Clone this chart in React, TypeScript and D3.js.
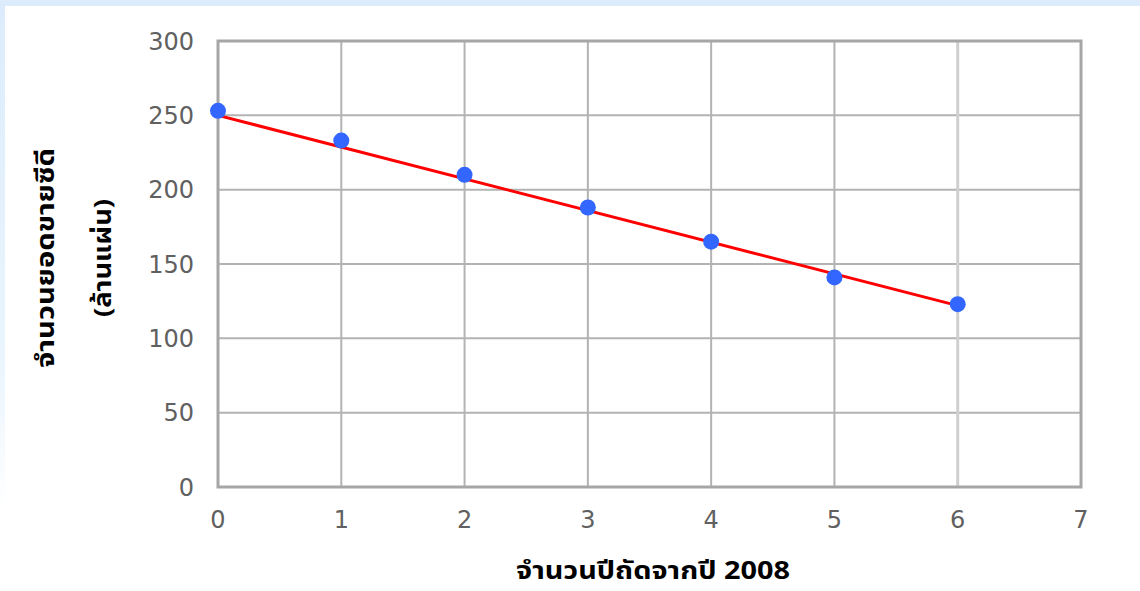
import React from "react";
import * as d3 from "d3";

const years = [0, 1, 2, 3, 4, 5, 6];
const sales = [253, 233, 210, 188, 165, 141, 123];
const trendX = [0, 6];
const trendY = [250, 122];
const xTicks = [0, 1, 2, 3, 4, 5, 6, 7];
const yTicks = [0, 50, 100, 150, 200, 250, 300];
const xTitle = "จำนวนปีถัดจากปี 2008";
const yTitleLines = ["จำนวนยอดขายซีดี", "(ล้านแผ่น)"];

const W = 1140;
const H = 591;
const plot = { left: 218, right: 1081, top: 41, bottom: 487 };

const thaiFont = "'Noto Sans Thai', 'Noto Sans', 'DejaVu Sans', sans-serif";
const tickFont = "'DejaVu Sans', sans-serif";

export default function App() {
  const x = d3.scaleLinear().domain([0, 7]).range([plot.left, plot.right]);
  const y = d3.scaleLinear().domain([0, 300]).range([plot.bottom, plot.top]);
  const trendLine = d3
    .line<number>()
    .x((_, i) => x(trendX[i]))
    .y((d) => y(d))(trendY) as string;

  const yTitleX = [54, 111];
  const yTitleLen = [220, 118];

  return (
    <svg
      width={W}
      height={H}
      style={{ position: "absolute", left: 0, top: 0, display: "block" }}
    >
      <defs>
        <linearGradient id="leftFade" x1="0" y1="0" x2="0" y2="1">
          <stop offset="0" stopColor="#dcecfc" />
          <stop offset="0.7" stopColor="#eaf5fd" />
          <stop offset="1" stopColor="#ffffff" />
        </linearGradient>
      </defs>
      <rect x={0} y={0} width={W} height={H} fill="#ffffff" />
      <rect x={0} y={0} width={W} height={6} fill="#dcecfc" />
      <rect x={0} y={6} width={5} height={505} fill="url(#leftFade)" />

      {/* grid */}
      {yTicks
        .filter((t) => t > 0 && t < 300)
        .map((t) => (
          <line
            key={"h" + t}
            x1={plot.left}
            x2={plot.right}
            y1={y(t)}
            y2={y(t)}
            stroke="#b3b3b3"
            strokeWidth={2}
          />
        ))}
      {xTicks
        .filter((t) => t > 0 && t < 7)
        .map((t) => (
          <line
            key={"v" + t}
            x1={x(t)}
            x2={x(t)}
            y1={plot.top}
            y2={plot.bottom}
            stroke={t === 6 ? "#cfcfcf" : "#b3b3b3"}
            strokeWidth={t === 6 ? 3 : 2}
          />
        ))}
      <rect
        x={plot.left}
        y={plot.top}
        width={plot.right - plot.left}
        height={plot.bottom - plot.top}
        fill="none"
        stroke="#a6a6a6"
        strokeWidth={3}
      />

      {/* tick labels */}
      {yTicks.map((t) => (
        <text
          key={"yl" + t}
          x={194}
          y={y(t)}
          dy="0.36em"
          textAnchor="end"
          fontFamily={tickFont}
          fontSize={24}
          fill="#606060"
        >
          {t}
        </text>
      ))}
      {xTicks.map((t) => (
        <text
          key={"xl" + t}
          x={x(t)}
          y={528}
          textAnchor="middle"
          fontFamily={tickFont}
          fontSize={24}
          fill="#606060"
        >
          {t}
        </text>
      ))}

      {/* trend line */}
      <path d={trendLine} fill="none" stroke="#ff0000" strokeWidth={3} />

      {/* points */}
      {years.map((yr, i) => (
        <circle key={"p" + yr} cx={x(yr)} cy={y(sales[i])} r={8} fill="#3366ff" />
      ))}

      {/* titles */}
      <text
        x={653}
        y={579}
        textAnchor="middle"
        fontFamily={thaiFont}
        fontWeight="bold"
        fontSize={25}
        textLength={274}
        lengthAdjust="spacingAndGlyphs"
        fill="#000000"
      >
        {xTitle}
      </text>
      {yTitleLines.map((s, i) => (
        <text
          key={"yt" + i}
          transform={`translate(${yTitleX[i]},258) rotate(-90)`}
          textAnchor="middle"
          fontFamily={thaiFont}
          fontWeight="bold"
          fontSize={24}
          textLength={yTitleLen[i]}
          lengthAdjust="spacingAndGlyphs"
          fill="#000000"
        >
          {s}
        </text>
      ))}
    </svg>
  );
}
